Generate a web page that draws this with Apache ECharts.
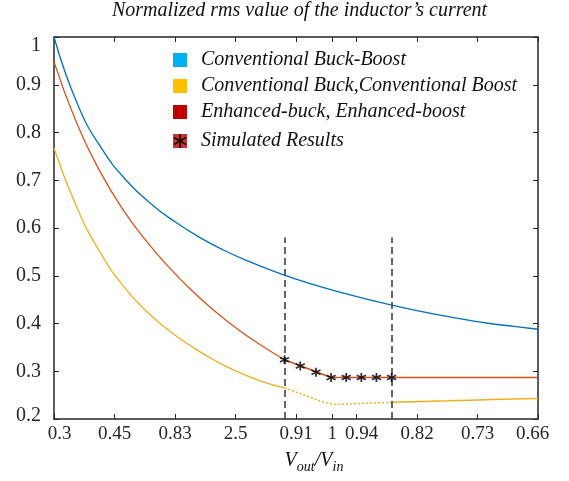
<!DOCTYPE html>
<html>
<head>
<meta charset="utf-8">
<script src="https://cdn.jsdelivr.net/npm/echarts@6/dist/echarts.min.js"></script>
<style>html,body{margin:0;padding:0;background:#fff}#c{width:569px;height:481px}</style>
</head>
<body>
<div id="c"></div>
<script>
const xTickValues = [0, 1, 2, 3, 4, 4.6, 5, 6, 7, 8];
const xTickLabels = ['0.3', '0.45', '0.83', '2.5', '0.91', '1', '0.94', '0.82', '0.73', '0.66'];

const xBlue = [0, 0.4, 0.8, 1.2, 1.6, 2.0, 2.4, 2.8, 3.2, 3.6, 4.0, 4.4, 4.8, 5.2, 5.6, 6.0, 6.4, 6.8, 7.2, 7.6, 8.0];
const yBlue = [1.0, 0.856, 0.764, 0.699, 0.651, 0.613, 0.581, 0.554, 0.531, 0.511, 0.493, 0.477, 0.463, 0.45, 0.438, 0.427, 0.417, 0.408, 0.4, 0.394, 0.388];

const xRedCurve = [0, 0.381, 0.762, 1.143, 1.524, 1.905, 2.286, 2.667, 3.048, 3.429, 3.81];
const yRedCurve = [0.948, 0.818, 0.718, 0.638, 0.573, 0.517, 0.468, 0.425, 0.387, 0.354, 0.324];
const xRedTail = [3.81, 4.58, 8];
const yRedTail = [0.324, 0.287, 0.287];

const xYellowCurve = [0, 0.381, 0.762, 1.143, 1.524, 1.905, 2.286, 2.667, 3.048, 3.429, 3.81];
const yYellowCurve = [0.767, 0.642, 0.549, 0.479, 0.426, 0.385, 0.351, 0.322, 0.298, 0.279, 0.265];
const xYellowDotted = [3.81, 4.1, 4.35, 4.5, 4.65, 4.9, 5.2, 5.58];
const yYellowDotted = [0.265, 0.252, 0.240, 0.234, 0.231, 0.2315, 0.233, 0.235];
const xYellowTail = [5.58, 6.5, 7.25, 8];
const yYellowTail = [0.235, 0.238, 0.241, 0.243];

const xSim = [3.81, 4.07, 4.33, 4.58, 4.83, 5.08, 5.33, 5.58];
const ySim = [0.324, 0.311, 0.298, 0.287, 0.287, 0.287, 0.287, 0.287];

const dashedX = [3.81, 5.58];
const dashedTop = 0.58;

const NAME_BB = 'Conventional Buck-Boost';
const NAME_CB = 'Conventional Buck,Conventional Boost';
const NAME_EN = 'Enhanced-buck, Enhanced-boost';
const NAME_SIM = 'Simulated Results';

const FONT = "'Liberation Serif', 'Times New Roman', serif";
const TXT = '#262626';
const AX = '#262626';
const STAR = 'path://M0,-5L0,5M-4.33,-2.5L4.33,2.5M-4.33,2.5L4.33,-2.5';

const zip = (xs, ys) => xs.map((x, i) => [x, ys[i]]);

const chart = echarts.init(document.getElementById('c'), null, {renderer: 'canvas'});

const legendText = {fontFamily: FONT, fontStyle: 'italic', fontSize: 20, color: '#111', lineHeight: 20, padding: [0, 0, 0, 9]};

const option = {
  backgroundColor: '#fff',
  animation: false,
  title: {
    text: "Normalized rms value of the inductor\u2019s current",
    left: 112, top: 0, padding: 0,
    textStyle: {fontFamily: FONT, fontStyle: 'italic', fontWeight: 'normal', fontSize: 20, color: '#111', lineHeight: 22}
  },
  legend: [
    {
      orient: 'vertical', left: 173, top: 50, padding: 0, itemGap: 6,
      itemWidth: 14, itemHeight: 14, selectedMode: false,
      textStyle: legendText,
      data: [
        {name: NAME_BB, icon: 'rect', itemStyle: {color: '#00B0F0', borderWidth: 0}},
        {name: NAME_CB, icon: 'rect', itemStyle: {color: '#FFC000', borderWidth: 0}},
        {name: NAME_EN, icon: 'rect', itemStyle: {color: '#C00000', borderWidth: 0}}
      ]
    },
    {
      orient: 'vertical', left: 173, top: 131, padding: 0,
      itemWidth: 14, itemHeight: 14, selectedMode: false,
      textStyle: legendText,
      data: [{name: NAME_SIM, icon: 'rect', itemStyle: {color: '#C00000', borderWidth: 0}}]
    },
    {
      orient: 'vertical', left: 173, top: 131, padding: 0, z: 10,
      itemWidth: 14, itemHeight: 14, selectedMode: false,
      textStyle: Object.assign({}, legendText, {color: 'rgba(0,0,0,0)'}),
      data: [{name: NAME_SIM, icon: STAR, itemStyle: {color: '#000', borderColor: '#000', borderWidth: 2}}]
    }
  ],
  grid: {left: 54, right: 31, top: 37, bottom: 62, containLabel: false},
  xAxis: [
    {
      type: 'value', min: 0, max: 8, interval: 1, position: 'bottom',
      axisLine: {show: true, onZero: false, lineStyle: {color: AX, width: 1.5}},
      axisTick: {show: true, inside: true, length: 5, customValues: xTickValues, lineStyle: {color: AX, width: 1}},
      splitLine: {show: false},
      axisLabel: {
        customValues: xTickValues,
        margin: 6,
        fontFamily: FONT, fontSize: 19, color: TXT,
        formatter: function (v) {
          let idx = -1;
          for (let i = 0; i < xTickValues.length; i++) if (Math.abs(xTickValues[i] - v) < 1e-6) idx = i;
          if (idx < 0) return '';
          const s = xTickLabels[idx];
          if (idx === 0) return '{f|' + s + '}';
          if (idx === xTickValues.length - 1) return '{l|' + s + '}';
          if (s === '0.94') return '{m|' + s + '}';
          return '{n|' + s + '}';
        },
        rich: {
          n: {fontFamily: FONT, fontSize: 19, color: TXT},
          f: {fontFamily: FONT, fontSize: 19, color: TXT, padding: [0, 0, 0, 11]},
          l: {fontFamily: FONT, fontSize: 19, color: TXT, padding: [0, 11, 0, 0]},
          m: {fontFamily: FONT, fontSize: 19, color: TXT, padding: [0, 0, 0, 10]}
        }
      },
      name: '{v|V}{s|out}{v|/V}{s|in}',
      nameLocation: 'middle', nameGap: 32,
      nameTextStyle: {
        padding: [0, 0, 0, 36],
        rich: {
          v: {fontFamily: FONT, fontStyle: 'italic', fontSize: 20, color: '#111', verticalAlign: 'bottom'},
          s: {fontFamily: FONT, fontStyle: 'italic', fontSize: 14, color: '#111', verticalAlign: 'bottom', padding: [0, 0, -3, 0]}
        }
      }
    },
    {
      type: 'value', min: 0, max: 8, interval: 1, position: 'top',
      axisLine: {show: true, onZero: false, lineStyle: {color: AX, width: 1.5}},
      axisTick: {show: true, inside: true, length: 5, customValues: xTickValues, lineStyle: {color: AX, width: 1}},
      axisLabel: {show: false},
      splitLine: {show: false}
    }
  ],
  yAxis: [
    {
      type: 'value', min: 0.2, max: 1, interval: 0.1, position: 'left',
      axisLine: {show: true, onZero: false, lineStyle: {color: AX, width: 1.5}},
      axisTick: {show: true, inside: true, length: 5, lineStyle: {color: AX, width: 1}},
      splitLine: {show: false},
      axisLabel: {
        margin: 13, fontFamily: FONT, fontSize: 20, color: TXT,
        formatter: function (v) {
          const s = String(+v.toFixed(1));
          if (v > 0.999) return '{t|' + s + '}';
          if (v < 0.2001) return '{b|' + s + '}';
          return '{n|' + s + '}';
        },
        rich: {
          n: {fontFamily: FONT, fontSize: 20, color: TXT},
          t: {fontFamily: FONT, fontSize: 20, color: TXT, padding: [17, 0, 0, 0]},
          b: {fontFamily: FONT, fontSize: 20, color: TXT, padding: [0, 0, 7, 0]}
        }
      }
    },
    {
      type: 'value', min: 0.2, max: 1, interval: 0.1, position: 'right',
      axisLine: {show: true, onZero: false, lineStyle: {color: AX, width: 1.5}},
      axisTick: {show: true, inside: true, length: 5, lineStyle: {color: AX, width: 1}},
      axisLabel: {show: false},
      splitLine: {show: false}
    }
  ],
  series: [
    {
      name: NAME_BB, type: 'line', data: zip(xBlue, yBlue), smooth: 0.5,
      showSymbol: false, lineStyle: {color: '#0072BD', width: 1.3}, itemStyle: {color: '#0072BD'}
    },
    {
      name: NAME_CB, type: 'line', data: zip(xYellowCurve, yYellowCurve), smooth: 0.5,
      showSymbol: false, lineStyle: {color: '#EDB120', width: 1.3}, itemStyle: {color: '#EDB120'}
    },
    {
      name: NAME_CB, type: 'line', data: zip(xYellowDotted, yYellowDotted), smooth: 0.3,
      showSymbol: false, lineStyle: {color: '#EDB120', width: 1.5, type: [2, 2]}, itemStyle: {color: '#EDB120'}
    },
    {
      name: NAME_CB, type: 'line', data: zip(xYellowTail, yYellowTail), smooth: 0.3,
      showSymbol: false, lineStyle: {color: '#EDB120', width: 1.5}, itemStyle: {color: '#EDB120'}
    },
    {
      name: NAME_EN, type: 'line', data: zip(xRedCurve, yRedCurve), smooth: 0.5,
      showSymbol: false, lineStyle: {color: '#D95319', width: 1.3}, itemStyle: {color: '#D95319'}
    },
    {
      name: NAME_EN, type: 'line', data: zip(xRedTail, yRedTail),
      showSymbol: false, lineStyle: {color: '#D95319', width: 1.6}, itemStyle: {color: '#D95319'},
      markLine: {
        silent: true, symbol: 'none', label: {show: false},
        lineStyle: {color: '#404040', width: 1.6, type: [7, 4]},
        data: dashedX.map(x => [{coord: [x, 0.2]}, {coord: [x, dashedTop]}])
      }
    },
    {
      name: NAME_SIM, type: 'scatter', data: zip(xSim, ySim), symbol: STAR, symbolSize: 9, z: 5,
      itemStyle: {color: '#000', borderColor: '#000', borderWidth: 1.8}
    }
  ]
};
chart.setOption(option);
</script>
</body>
</html>
